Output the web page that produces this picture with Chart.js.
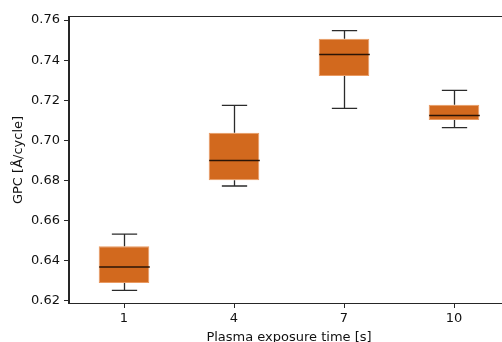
<!DOCTYPE html>
<html>
<head>
<meta charset="utf-8">
<script src="https://cdn.jsdelivr.net/npm/chart.js@4/dist/chart.umd.min.js"></script>
<style>
  html, body { margin: 0; padding: 0; background: #fff; overflow: hidden; }
  canvas { display: block; }
</style>
</head>
<body>
<canvas id="box" width="512" height="345"></canvas>
<script>
// exposure times on the x axis
const labels = ["1", "4", "7", "10"];

// five-number summaries per exposure time (GPC in Å/cycle)
const whiskerLow = [0.6253, 0.6773, 0.7160, 0.7064];
const q1 = [0.6290, 0.6801, 0.7321, 0.7102];
const median = [0.6369, 0.6900, 0.7428, 0.7124];
const q3 = [0.6473, 0.7038, 0.7507, 0.7178];
const whiskerHigh = [0.6533, 0.7175, 0.7547, 0.7249];

const yTicks = [0.62, 0.64, 0.66, 0.68, 0.70, 0.72, 0.74, 0.76];

const font = { family: "'DejaVu Sans', sans-serif", size: 13 };

// whiskers, caps, medians and the frame around the plot
const boxExtras = {
  id: "boxExtras",
  afterDatasetsDraw(chart) {
    const { ctx, chartArea } = chart;
    const x = chart.scales.x;
    const y = chart.scales.y;
    const bars = chart.getDatasetMeta(0).data;
    ctx.save();
    labels.forEach((_, i) => {
      const cx = Math.round(x.getPixelForValue(i)) + 0.5;
      const half = bars[i].width / 2;
      const cap = half / 2;
      ctx.strokeStyle = "#2b2b2b";
      ctx.lineWidth = 1.3;
      ctx.beginPath();
      ctx.moveTo(cx, y.getPixelForValue(q3[i]));
      ctx.lineTo(cx, y.getPixelForValue(whiskerHigh[i]));
      ctx.moveTo(cx, y.getPixelForValue(q1[i]));
      ctx.lineTo(cx, y.getPixelForValue(whiskerLow[i]));
      ctx.moveTo(cx - cap, y.getPixelForValue(whiskerHigh[i]));
      ctx.lineTo(cx + cap, y.getPixelForValue(whiskerHigh[i]));
      ctx.moveTo(cx - cap, y.getPixelForValue(whiskerLow[i]));
      ctx.lineTo(cx + cap, y.getPixelForValue(whiskerLow[i]));
      ctx.stroke();

      ctx.strokeStyle = "#2a1406";
      ctx.lineWidth = 1.5;
      ctx.beginPath();
      ctx.moveTo(cx - half, y.getPixelForValue(median[i]));
      ctx.lineTo(cx + half, y.getPixelForValue(median[i]));
      ctx.stroke();
    });
    ctx.strokeStyle = "#262626";
    ctx.lineWidth = 1;
    ctx.strokeRect(chartArea.left - 0.5, chartArea.top - 0.5,
      chartArea.right - chartArea.left + 1, chartArea.bottom - chartArea.top + 1);
    ctx.restore();
  }
};

new Chart(document.getElementById("box"), {
  type: "bar",
  data: {
    labels: labels,
    datasets: [
      {
        data: labels.map((_, i) => [q1[i], q3[i]]),
        backgroundColor: "#d2691e",
        borderColor: "#e99a62",
        borderWidth: 1,
        borderSkipped: false,
        barPercentage: 0.46,
        categoryPercentage: 1,
      },
    ],
  },
  options: {
    responsive: false,
    animation: false,
    layout: { padding: { top: 17, right: 3, bottom: 0, left: 0 } },
    plugins: { legend: { display: false }, tooltip: { enabled: false } },
    scales: {
      x: {
        afterFit: (scale) => { scale.height = 42; },
        grid: { offset: false, drawOnChartArea: false, tickLength: 5, tickColor: "#262626" },
        border: { color: "#262626" },
        ticks: { color: "#111", font: font, padding: 3 },
        title: {
          display: true,
          text: "Plasma exposure time [s]",
          color: "#111",
          font: font,
          padding: { top: 0, bottom: 0 },
        },
      },
      y: {
        min: 0.619,
        max: 0.7615,
        afterFit: (scale) => { scale.width = 69; },
        afterBuildTicks: (scale) => {
          scale.ticks = yTicks.map((v) => ({ value: v }));
        },
        grid: { drawOnChartArea: false, tickLength: 5, tickColor: "#262626" },
        border: { color: "#262626" },
        ticks: {
          color: "#111",
          font: font,
          padding: 4,
          callback: (v) => Number(v).toFixed(2),
        },
        title: {
          display: true,
          text: "GPC [Å/cycle]",
          color: "#111",
          font: font,
          padding: { top: 11, bottom: 0 },
        },
      },
    },
  },
  plugins: [boxExtras],
});
</script>
</body>
</html>
